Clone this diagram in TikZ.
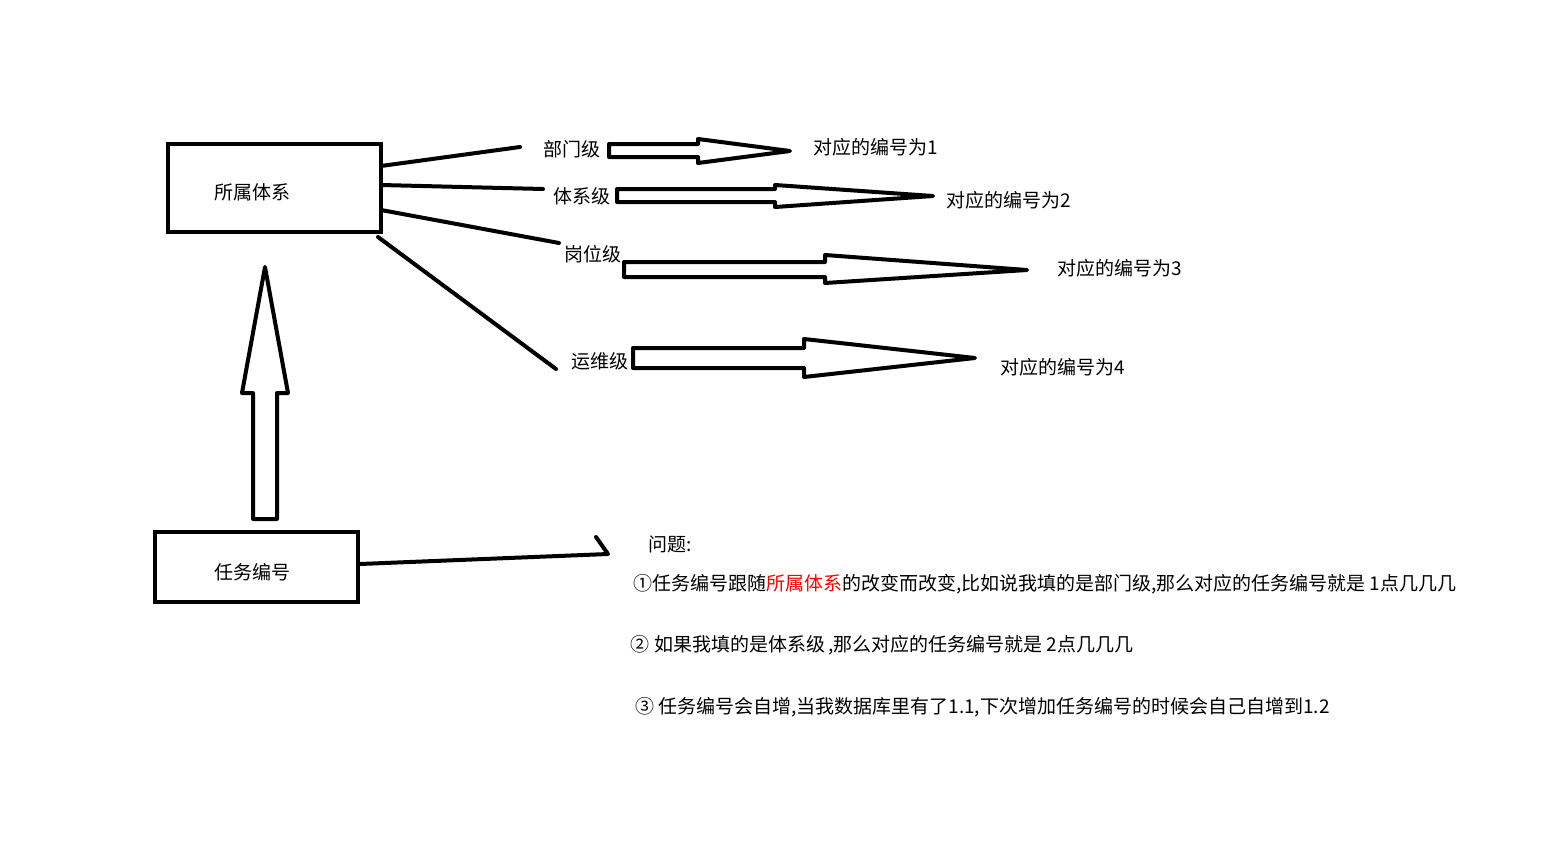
\documentclass[tikz,border=0pt]{standalone}
\usepackage{fontspec}
\newfontfamily\cjk{Noto Sans CJK SC}
\begin{document}
\begin{tikzpicture}[x=1pt,y=-1pt,line width=4pt,
  txt/.style={font=\cjk\fontsize{19}{19}\selectfont,inner sep=0pt},
  box/.style={draw,line width=4pt,inner sep=0pt},
  hollow/.style={draw,line width=4pt,line join=round,fill=white},
  conn/.style={draw,line width=4pt,line cap=round}]
\useasboundingbox (0,0) rectangle (1542,851);

% boxes
\node[box,minimum width=213pt,minimum height=88pt] (sys) at (274.5,188) {};
\node[txt] (systxt) at (252,192) {所属体系};
\node[box,minimum width=203pt,minimum height=70pt] (task) at (256.5,567) {};
\node[txt] (tasktxt) at (252,572) {任务编号};

% level labels
\node[txt] (dept) at (572,149) {部门级};
\node[txt] (tixi) at (582,196) {体系级};
\node[txt] (gang) at (593,254) {岗位级};
\node[txt] (yunwei) at (600,361) {运维级};

% result labels
\node[txt,anchor=west] (r1) at (811,147) {对应的编号为1};
\node[txt,anchor=west] (r2) at (944,200) {对应的编号为2};
\node[txt,anchor=west] (r3) at (1055,268) {对应的编号为3};
\node[txt,anchor=west] (r4) at (998,367) {对应的编号为4};

% connector end points
\coordinate (s1) at (381,166); \coordinate (e1) at (520,147);
\coordinate (s2) at (381,185); \coordinate (e2) at (543,189);
\coordinate (s3) at (381,210); \coordinate (e3) at (559,243);
\coordinate (s4) at (378,237); \coordinate (e4) at (556,369);
\draw[conn] (s1) -- (e1);
\draw[conn] (s2) -- (e2);
\draw[conn] (s3) -- (e3);
\draw[conn] (s4) -- (e4);

% hollow arrows
\draw[hollow] (609,144) -- (698,144) -- (698,139) -- (790,151) -- (698,163) -- (698,157) -- (609,157) -- cycle;
\draw[hollow] (617,189) -- (775,189) -- (775,185) -- (933,196) -- (775,207) -- (775,202) -- (617,202) -- cycle;
\draw[hollow] (624,262) -- (825,262) -- (825,255) -- (1027,270) -- (825,283) -- (825,277) -- (624,277) -- cycle;
\draw[hollow] (633,348) -- (804,348) -- (804,339) -- (975,358) -- (804,377) -- (804,368) -- (633,368) -- cycle;
\draw[hollow] (253,519) -- (253,393) -- (242,393) -- (265,267) -- (288,393) -- (277,393) -- (277,519) -- cycle;

% task connector with hook
\coordinate (t1) at (608,554);
\coordinate (t2) at (596,537);
\draw[conn,line join=round] (task.east |- 0,564) -- (t1) -- (t2);

% questions
\node[txt,anchor=west] (q) at (646,544) {问题:};
\node[txt,anchor=west] (p1) at (631,584) {①任务编号跟随\textcolor{red}{所属体系}的改变而改变,比如说我填的是部门级,那么对应的任务编号就是 1点几几几};
\node[txt,anchor=west] (p2) at (628,645) {②\hspace{6pt}如果我填的是体系级\hspace{2pt},那么对应的任务编号就是 2点几几几};
\node[txt,anchor=west] (p3) at (633,707) {③ 任务编号会自增,当我数据库里有了1.1,下次增加任务编号的时候会自己自增到1.2};
\end{tikzpicture}
\end{document}
